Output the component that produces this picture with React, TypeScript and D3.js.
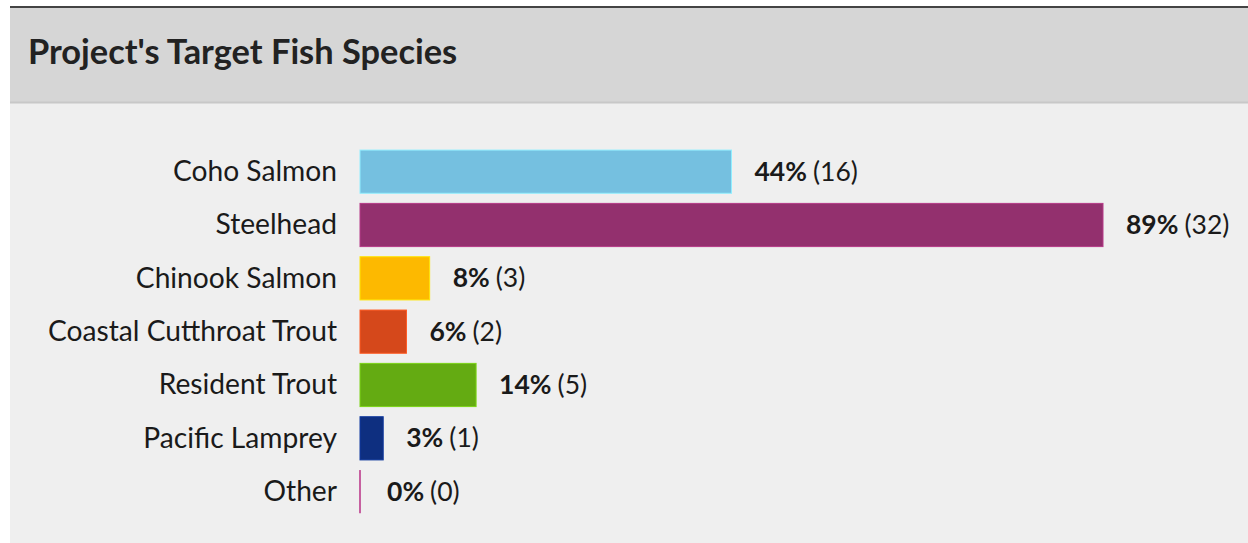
import React from "react";
import * as d3 from "d3";

const title = "Project's Target Fish Species";
const categories = [
  "Coho Salmon",
  "Steelhead",
  "Chinook Salmon",
  "Coastal Cutthroat Trout",
  "Resident Trout",
  "Pacific Lamprey",
  "Other",
];
const counts = [16, 32, 3, 2, 5, 1, 0];
const percents = [44, 89, 8, 6, 14, 3, 0];
const colors = ["#75c0e0", "#93306e", "#fdb900", "#d5481b", "#64ab12", "#0e2f80", "#c660a0"];

const W = 1248;
const H = 543;
const FONT = "Lato, 'Open Sans', sans-serif";

export default function App() {
  const x = d3.scaleLinear().domain([0, 32]).range([360, 1103]);
  const y = d3
    .scaleBand<string>()
    .domain(categories)
    .range([145, 145 + 7 * 53.33])
    .paddingInner(0.19)
    .paddingOuter(0.095);

  return (
    <svg
      width={W}
      height={H}
      style={{ position: "absolute", left: 0, top: 0, display: "block" }}
      fontFamily={FONT}
    >
      <rect x={0} y={0} width={W} height={H} fill="#ffffff" />
      <rect x={10} y={7} width={W - 10} height={H - 7} fill="#efefef" />
      <rect x={10} y={8} width={W - 10} height={94} fill="#d6d6d6" />
      <line x1={10} x2={W} y1={102.5} y2={102.5} stroke="#c8c8c8" strokeWidth={2} />
      <line x1={10} x2={W} y1={7} y2={7} stroke="#444" strokeWidth={2} />
      <text x={28} y={64} fontSize={34.4} fontWeight={700} fill="#222">
        {title}
      </text>
      {categories.map((c, i) => {
        const y0 = y(c)!;
        const bh = y.bandwidth();
        const cy = y0 + bh / 2;
        const w = x(counts[i]) - x(0);
        const isZero = counts[i] === 0;
        return (
          <g key={c}>
            <text
              x={337}
              y={cy + 9.5}
              textAnchor="end"
              fontSize={28.2}
              fill="#1a1a1a"
            >
              {c}
            </text>
            {isZero ? (
              <rect x={x(0) - 1} y={y0} width={2} height={bh} fill={colors[i]} />
            ) : (
              <rect
                x={x(0)}
                y={y0}
                width={w}
                height={bh}
                fill={colors[i]}
                stroke={d3.color(colors[i])!.brighter(0.6).toString()}
                strokeWidth={1}
              />
            )}
            <text
              x={x(counts[i]) + (isZero ? 27 : 23)}
              y={cy + 9}
              fontSize={26.5}
              fill="#1a1a1a"
            >
              <tspan fontWeight={700}>{percents[i]}%</tspan>
              <tspan dx={6}>({counts[i]})</tspan>
            </text>
          </g>
        );
      })}
    </svg>
  );
}
